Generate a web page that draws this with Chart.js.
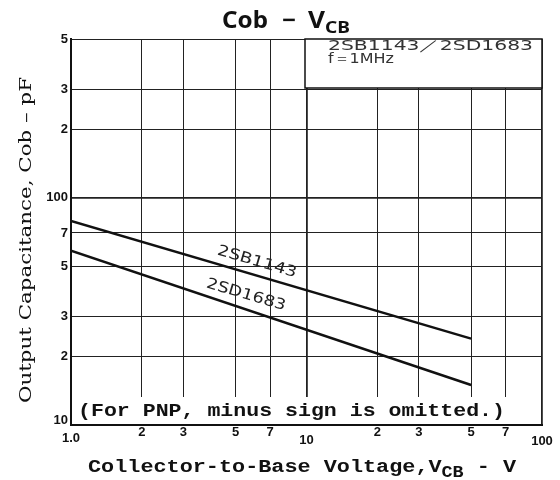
<!DOCTYPE html>
<html>
<head>
<meta charset="utf-8">
<script src="https://cdn.jsdelivr.net/npm/chart.js@4.4.1/dist/chart.umd.min.js"></script>
<style>
  html, body { margin: 0; background: #fff; }
</style>
</head>
<body>
<canvas id="cobChart" width="560" height="480"></canvas>
<script>
// Cob - VCB curves for 2SB1143 / 2SD1683 (log-log)
const vcb = [1, 50];
const cob2SB1143 = [79, 24];
const cob2SD1683 = [58.5, 15];

const xTickValues = [1, 2, 3, 5, 7, 10, 20, 30, 50, 70, 100];
const xTickLabels = ['1.0', '2', '3', '5', '7', '10', '2', '3', '5', '7', '100'];
const yTickValues = [10, 20, 30, 50, 70, 100, 200, 300, 500];
const yTickLabels = ['10', '2', '3', '5', '7', '100', '2', '3', '5'];

const toPoints = (xs, ys) => xs.map((x, i) => ({ x: x, y: ys[i] }));

// draw text squeezed/stretched to a given width
function fitText(ctx, text, x, y, width) {
    const w = ctx.measureText(text).width;
    ctx.save();
    ctx.translate(x, y);
    ctx.scale(width / w, 1);
    ctx.textAlign = 'left';
    ctx.fillText(text, 0, 0);
    ctx.restore();
}

const boxesPlugin = {
    id: 'boxes',
    beforeDatasetsDraw(chart) {
        const ctx = chart.ctx;
        const a = chart.chartArea;
        ctx.save();
        ctx.fillStyle = '#fff';
        // part number box (top right)
        ctx.fillRect(305, a.top, a.right - 305, 88 - a.top);
        ctx.strokeStyle = '#111';
        ctx.lineWidth = 1.5;
        ctx.strokeRect(305, a.top, a.right - 305, 88 - a.top);
        // note strip at bottom
        ctx.fillRect(a.left + 1, 397, a.right - a.left - 2, a.bottom - 397 - 1);
        ctx.restore();
    },
    afterDraw(chart) {
        const ctx = chart.ctx;
        const xs = chart.scales.x, ys = chart.scales.y;
        ctx.save();
        ctx.fillStyle = '#111';
        ctx.textBaseline = 'middle';

        // tick labels
        ctx.font = 'bold 13px "Liberation Sans Narrow", "Liberation Sans", Arial';
        const xOff = { 1: 438, 10: 440, 100: 441 };
        xTickValues.forEach((v, i) => {
            ctx.textAlign = 'center';
            ctx.fillText(xTickLabels[i], xs.getPixelForValue(v), xOff[v] || 432);
        });
        yTickValues.forEach((v, i) => {
            ctx.textAlign = 'right';
            let py = ys.getPixelForValue(v);
            if (v === 10) py -= 5;
            ctx.fillText(yTickLabels[i], 68, py);
        });

        // title
        ctx.textBaseline = 'alphabetic';
        ctx.font = 'bold 23px "Noto Sans", "Open Sans", sans-serif';
        ctx.textAlign = 'left';
        fitText(ctx, 'Cob', 222, 28, 46);
        fitText(ctx, '\u2212', 282, 28, 14);
        fitText(ctx, 'V', 308, 28, 17);
        ctx.font = 'bold 16px "Noto Sans", "Open Sans", sans-serif';
        fitText(ctx, 'CB', 325, 33, 25);

        // y axis title
        ctx.save();
        ctx.translate(31, 403);
        ctx.rotate(-Math.PI / 2);
        ctx.font = '17px "DejaVu Serif", "Liberation Serif", serif';
        fitText(ctx, 'Output Capacitance, Cob \u2013 pF', 0, 0, 326);
        ctx.restore();

        // x axis title
        ctx.font = 'bold 19px "Liberation Mono", "DejaVu Sans Mono", monospace';
        const p1 = 'Collector-to-Base Voltage,V', p3 = ' - V';
        const w1 = ctx.measureText(p1).width, w3 = ctx.measureText(p3).width;
        ctx.font = 'bold 16px "Liberation Mono", "DejaVu Sans Mono", monospace';
        const w2 = ctx.measureText('CB').width;
        const s = (516 - 88) / (w1 + w2 + w3);
        ctx.save();
        ctx.translate(88, 472);
        ctx.scale(s, 1);
        ctx.font = 'bold 19px "Liberation Mono", "DejaVu Sans Mono", monospace';
        ctx.fillText(p1, 0, 0);
        ctx.fillText(p3, w1 + w2, 0);
        ctx.font = 'bold 16px "Liberation Mono", "DejaVu Sans Mono", monospace';
        ctx.fillText('CB', w1, 5);
        ctx.restore();

        // note
        ctx.font = 'bold 19px "Liberation Mono", "DejaVu Sans Mono", monospace';
        fitText(ctx, '(For PNP, minus sign is omitted.)', 78, 416, 427);

        // part numbers box text
        ctx.fillStyle = '#333';
        ctx.font = '14px "DejaVu Sans", "Noto Sans", sans-serif';
        fitText(ctx, '2SB1143\uFF0F2SD1683', 328, 50, 205);
        fitText(ctx, 'f\uFF1D1MHz', 328, 63, 66);

        // curve labels along the lines
        const ang = Math.atan2(
            ys.getPixelForValue(cob2SB1143[1]) - ys.getPixelForValue(cob2SB1143[0]),
            xs.getPixelForValue(vcb[1]) - xs.getPixelForValue(vcb[0]));
        ctx.fillStyle = '#222';
        ctx.font = '15px "DejaVu Sans", "Noto Sans", sans-serif';
        ctx.textBaseline = 'middle';
        [['2SB1143', 257, 262], ['2SD1683', 246, 295]].forEach(([t, cx, cy]) => {
            ctx.save();
            ctx.translate(cx, cy);
            ctx.rotate(ang);
            fitText(ctx, t, -41, 0, 82);
            ctx.restore();
        });
        ctx.restore();
    }
};

const gridWidth = (ctx) => (ctx.tick && (ctx.tick.value === 100 || ctx.tick.value === 10)) ? 1.8 : 1;

new Chart(document.getElementById('cobChart').getContext('2d'), {
    type: 'scatter',
    data: {
        datasets: [
            { label: '2SB1143', data: toPoints(vcb, cob2SB1143), showLine: true, borderColor: '#111', borderWidth: 2.5, pointRadius: 0 },
            { label: '2SD1683', data: toPoints(vcb, cob2SD1683), showLine: true, borderColor: '#111', borderWidth: 2.5, pointRadius: 0 }
        ]
    },
    options: {
        responsive: false,
        animation: false,
        devicePixelRatio: 1,
        layout: { padding: { left: 71, right: 18, top: 39, bottom: 55 } },
        plugins: { legend: { display: false }, tooltip: { enabled: false } },
        scales: {
            x: {
                type: 'logarithmic', min: 1, max: 100,
                afterBuildTicks: (scale) => { scale.ticks = xTickValues.map(v => ({ value: v })); },
                ticks: { display: false },
                grid: { color: '#222', lineWidth: gridWidth, drawTicks: false },
                border: { color: '#111', width: 2 }
            },
            y: {
                type: 'logarithmic', min: 10, max: 500,
                afterBuildTicks: (scale) => { scale.ticks = yTickValues.map(v => ({ value: v })); },
                ticks: { display: false },
                grid: { color: '#222', lineWidth: gridWidth, drawTicks: false },
                border: { color: '#111', width: 2 }
            }
        }
    },
    plugins: [boxesPlugin]
});
</script>
</body>
</html>
